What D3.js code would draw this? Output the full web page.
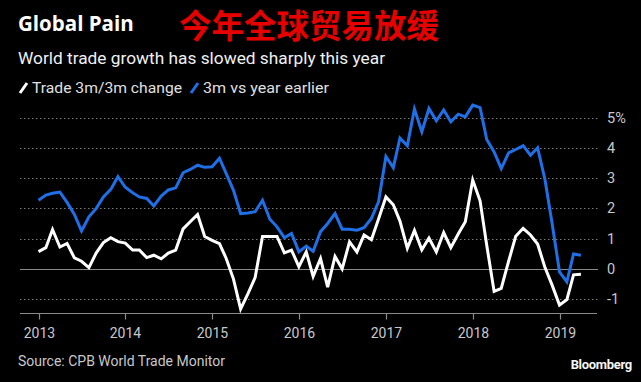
<!DOCTYPE html>
<html><head><meta charset="utf-8">
<script src="https://cdn.jsdelivr.net/npm/d3@7"></script>
<style>html,body{margin:0;padding:0;background:#000;}svg{display:block;}</style>
</head><body>
<svg id="c" width="641" height="382"></svg>
<script>
const startYear = 2013, startMonth = 0;
const tradeChange = [0.57,0.70,1.30,0.72,0.84,0.36,0.25,0.04,0.53,0.87,1.03,0.90,
  0.85,0.62,0.62,0.37,0.45,0.33,0.52,0.62,1.32,1.56,1.80,1.07,
  0.94,0.83,0.35,-0.34,-1.33,-0.82,-0.29,1.07,1.07,1.07,0.53,0.62,
  0.07,0.56,-0.25,0.34,-0.61,0.41,0.00,0.89,0.56,1.12,0.96,1.65,
  2.38,2.12,1.58,0.68,1.27,0.63,1.02,0.56,1.20,0.70,1.15,1.56,
  2.94,2.25,0.78,-0.75,-0.65,0.25,1.08,1.34,1.12,0.82,0.04,-0.54,
  -1.20,-1.02,-0.20,-0.18];
const yearEarlier = [2.27,2.44,2.50,2.54,2.20,1.80,1.25,1.72,2.00,2.38,2.63,3.05,
  2.70,2.52,2.38,2.33,2.08,2.41,2.61,2.68,3.18,3.29,3.43,3.36,
  3.38,3.66,3.16,2.60,1.83,1.85,1.89,2.27,1.64,1.39,1.03,1.17,
  0.56,0.75,0.58,1.23,1.50,1.83,1.31,1.31,1.28,1.36,1.67,2.22,
  3.72,3.35,4.33,4.07,5.29,4.54,5.31,4.90,5.26,4.87,5.12,5.03,
  5.42,5.34,4.28,3.87,3.32,3.84,3.95,4.08,3.76,4.01,2.95,1.50,
  -0.10,-0.43,0.49,0.45];
const yTicks = [-1,0,1,2,3,4,5];
const xTickYears = [2013,2014,2015,2016,2017,2018,2019];
const seriesNames = ["Trade 3m/3m change","3m vs year earlier"];
const seriesColors = ["#ffffff","#1f6fe6"];

const svg = d3.select("#c");
svg.append("rect").attr("width",641).attr("height",382).attr("fill","#000");

const x = d3.scaleTime()
  .domain([new Date(2013,0,1), new Date(2019,0,1)])
  .range([38.5, 559.5]);
const y = d3.scaleLinear().domain([-1,5]).range([299,117.8]);
const dateOf = i => new Date(startYear, startMonth + i, 1);

const gridL = 20, gridR = 598;

yTicks.forEach(t => {
  svg.append("line")
    .attr("x1", gridL).attr("x2", gridR)
    .attr("y1", Math.round(y(t)) + 0.5).attr("y2", Math.round(y(t)) + 0.5)
    .attr("stroke", t === 0 ? "#8a8a8a" : "#7a7a7a")
    .attr("stroke-width", t === 0 ? 1.2 : 1)
    .attr("stroke-dasharray", t === 0 ? null : "1.5,2.5");
});
yTicks.forEach(t => {
  svg.append("text")
    .attr("x", 607).attr("y", y(t) + 5)
    .attr("fill", "#c8c8c8")
    .attr("font-family", "Roboto, 'Noto Sans', sans-serif")
    .attr("font-size", 14.5)
    .text(t === 5 ? "5%" : (t < 0 ? "-" + Math.abs(t) : t));
});

const axisY = 313.5;
svg.append("line").attr("x1", gridL).attr("x2", gridR - 1)
  .attr("y1", axisY).attr("y2", axisY).attr("stroke", "#8a8a8a").attr("stroke-width", 1.2);
xTickYears.forEach(yr => {
  const xx = Math.round(x(new Date(yr,0,1))) + 0.5;
  svg.append("line").attr("x1", xx).attr("x2", xx)
    .attr("y1", axisY).attr("y2", axisY + 6).attr("stroke", "#8a8a8a").attr("stroke-width", 1.2);
  svg.append("text").attr("x", xx).attr("y", 338)
    .attr("text-anchor", "middle").attr("fill", "#c8c8c8")
    .attr("font-family", "Roboto, 'Noto Sans', sans-serif").attr("font-size", 14)
    .text(yr);
});

const line = d3.line().x((d,i) => x(dateOf(i))).y(d => y(d));
[yearEarlier, tradeChange].forEach((s, k) => {
  svg.append("path").datum(s)
    .attr("d", line)
    .attr("fill", "none")
    .attr("stroke", k === 0 ? seriesColors[1] : seriesColors[0])
    .attr("stroke-width", 3)
    .attr("stroke-linejoin", "miter");
});

svg.append("text").attr("x", 18).attr("y", 31)
  .attr("fill", "#fff").attr("font-family", "'Open Sans', 'Noto Sans', sans-serif")
  .attr("font-weight", "bold").attr("font-size", 20.5).text("Global Pain");
svg.append("text").attr("x", 179).attr("y", 38)
  .attr("fill", "#e60000").attr("font-family", "'Noto Sans CJK SC', sans-serif")
  .attr("font-weight", "bold").attr("font-size", 32.5).text("今年全球贸易放缓");
svg.append("text").attr("x", 18).attr("y", 64)
  .attr("fill", "#f0f0f0").attr("font-family", "Roboto, 'Noto Sans', sans-serif")
  .attr("font-size", 17).attr("textLength", 367).attr("lengthAdjust", "spacingAndGlyphs")
  .text("World trade growth has slowed sharply this year");

const legX = [20, 191];
const legW = [150, 126];
seriesNames.forEach((n, k) => {
  svg.append("line").attr("x1", legX[k]).attr("y1", 93).attr("x2", legX[k] + 7).attr("y2", 83)
    .attr("stroke", seriesColors[k]).attr("stroke-width", 3);
  svg.append("text").attr("x", legX[k] + 12).attr("y", 93)
    .attr("fill", "#e0e0e0").attr("font-family", "Roboto, 'Noto Sans', sans-serif")
    .attr("font-size", 15).attr("textLength", legW[k]).attr("lengthAdjust", "spacingAndGlyphs")
    .text(n);
});

svg.append("text").attr("x", 18).attr("y", 366)
  .attr("fill", "#c8c8c8").attr("font-family", "Roboto, 'Noto Sans', sans-serif")
  .attr("font-size", 14.5).attr("textLength", 207).attr("lengthAdjust", "spacingAndGlyphs")
  .text("Source: CPB World Trade Monitor");
svg.append("text").attr("x", 632).attr("y", 369).attr("text-anchor", "end")
  .attr("fill", "#f5f5f5").attr("font-family", "Roboto, 'Liberation Sans', sans-serif")
  .attr("font-weight", "bold").attr("font-size", 13).attr("letter-spacing", -0.3).text("Bloomberg");
</script>
</body></html>
